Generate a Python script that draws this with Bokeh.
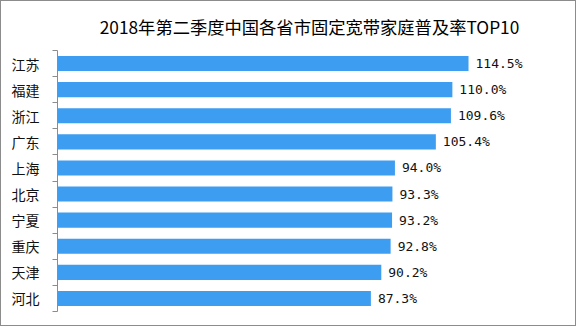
from bokeh.plotting import figure
from bokeh.models import ColumnDataSource, Range1d, FixedTicker, LabelSet
from bokeh.embed import file_html
from bokeh.resources import INLINE
from bokeh.core.properties import value

provinces = ["江苏", "福建", "浙江", "广东", "上海", "北京", "宁夏", "重庆", "天津", "河北"]
rates = [114.5, 110.0, 109.6, 105.4, 94.0, 93.3, 93.2, 92.8, 90.2, 87.3]
title_text = "2018年第二季度中国各省市固定宽带家庭普及率TOP10"

ys = [i + 0.5 for i in range(len(provinces))]
labels = [f"{v:.1f}%" for v in rates]
src = ColumnDataSource(dict(y=ys, rate=rates, label=labels, name=provinces))

p = figure(width=576, height=326, output_backend="svg", toolbar_location=None,
           x_range=Range1d(0, 140.4), y_range=Range1d(len(provinces), 0),
           min_border_left=56, min_border_right=16, min_border_top=49, min_border_bottom=16)
p.styles = {"border": "1px solid #8c8c8c"}

p.title.text = title_text
p.title.align = "center"
p.title.vertical_align = "top"
p.title.offset = -29
p.title.standoff = 20
p.title.text_font = "Noto Sans CJK SC"
p.title.text_font_size = "17.3px"
p.title.text_font_style = "normal"
p.title.text_color = "#000000"

p.hbar(y="y", left=0, right="rate", height=0.58, source=src,
       fill_color="#3d9df1", line_color=None)

p.add_layout(LabelSet(x="rate", y="y", text="label", source=src, x_offset=7,
                      text_baseline="middle", text_font=value("DejaVu Sans Mono"),
                      text_font_size="13px", text_color="#111111"))

p.xaxis.visible = False
p.xgrid.visible = False
p.ygrid.visible = False
p.outline_line_color = None

ax = p.yaxis[0]
ax.ticker = FixedTicker(ticks=ys, minor_ticks=list(range(len(provinces) + 1)))
ax.major_label_overrides = {y: n for y, n in zip(ys, provinces)}
ax.major_tick_line_color = None
ax.major_tick_out = 0
ax.major_tick_in = 0
ax.minor_tick_out = 5
ax.minor_tick_in = 0
ax.minor_tick_line_color = "#8c8c8c"
ax.axis_line_color = "#8c8c8c"
ax.major_label_standoff = 13
ax.major_label_text_font = "Noto Sans CJK SC"
ax.major_label_text_font_size = "14px"
ax.major_label_text_color = "#111111"

open("out.html", "w").write(file_html(p, INLINE))
